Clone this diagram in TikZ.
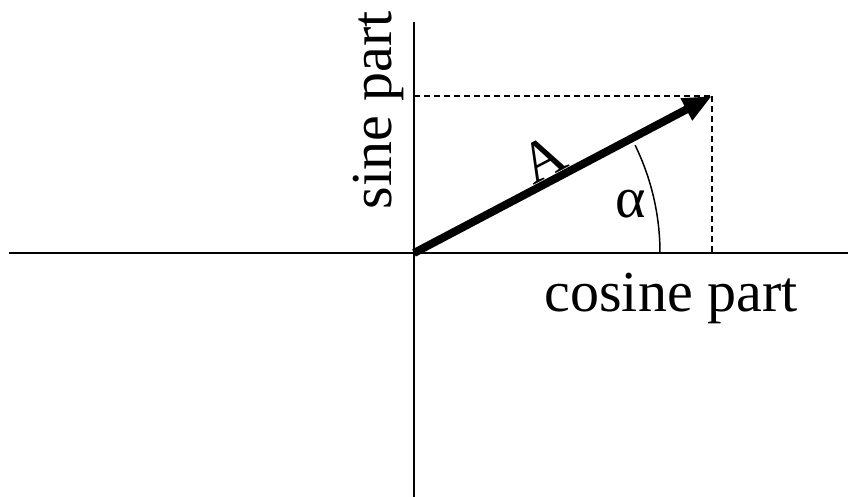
\documentclass[tikz,border=0pt]{standalone}
\usepackage{fontspec}
\setmainfont{Liberation Serif}
\usetikzlibrary{arrows.meta}

\begin{document}
\begin{tikzpicture}[
    x=1pt,
    y=1pt,
    axisline/.style={draw=black, line width=2pt},
    vectorline/.style={-{Triangle[length=29pt, width=23pt]}, draw=black, line width=8pt},
    helpline/.style={draw=black, line width=1.5pt, dash pattern=on 6pt off 4pt},
    anglearc/.style={draw=black, line width=1.5pt},
    axislabel/.style={font=\fontsize{58}{60}\selectfont, inner sep=0pt, text=black}
]

\useasboundingbox (-414,-244) rectangle (434,253);

\coordinate (O) at (0,0);
\coordinate (xleft) at (-405,0);
\coordinate (xright) at (434,0);
\coordinate (ytop) at (0,231);
\coordinate (ybottom) at (0,-244);
\coordinate (tip) at (298,157);
\coordinate (tipx) at (298,0);
\coordinate (tipy) at (0,157);

\draw[axisline] (xleft) -- (xright);
\draw[axisline] (ytop) -- (ybottom);

\draw[helpline] (tipy) -- (tip);
\draw[helpline] (tip) -- (tipx);

\draw[anglearc] (246,0) arc[start angle=0, end angle=26, radius=246];

\draw[vectorline] (O) -- node[axislabel, sloped, above, pos=0.47] (vecname) {A} (tip);

\node[axislabel, anchor=base] (alpha) at (217,35) {α};
\node[axislabel, rotate=90, anchor=base] (sine) at (-23,143) {sine part};
\node[axislabel, anchor=base] (cosine) at (257,-59) {cosine part};

\end{tikzpicture}
\end{document}
